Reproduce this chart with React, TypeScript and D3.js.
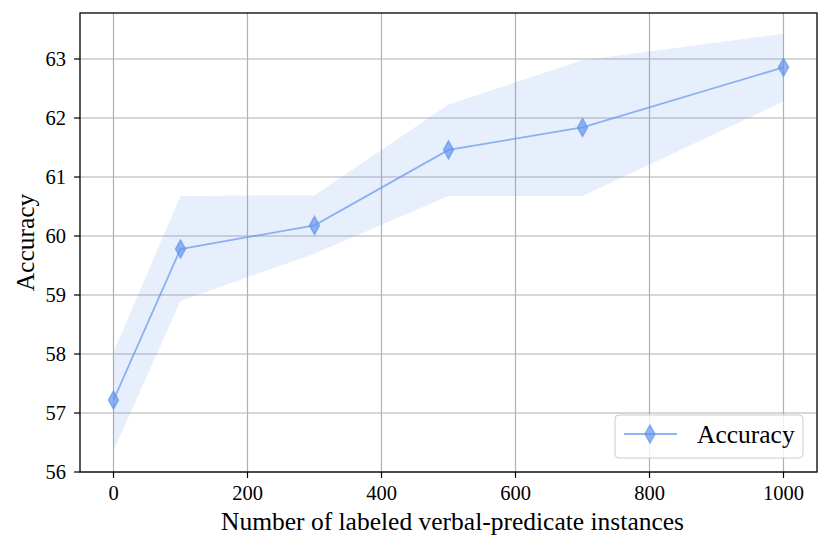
import * as d3 from 'd3'

const counts = [0, 100, 300, 500, 700, 1000]
const accuracy = [57.22, 59.78, 60.18, 61.46, 61.84, 62.86]
const upper = [58.03, 60.68, 60.69, 62.23, 62.98, 63.43]
const lower = [56.36, 58.9, 59.7, 60.68, 60.68, 62.28]
const xTicks = [0, 200, 400, 600, 800, 1000]
const yTicks = [56, 57, 58, 59, 60, 61, 62, 63]

const WIDTH = 831
const HEIGHT = 550
const LEFT = 80
const RIGHT = 817
const TOP = 13
const BOTTOM = 472
const FONT = '"Liberation Serif", "Times New Roman", serif'
const BLUE = 'rgb(100,149,237)'

export default function App() {
  const x = d3.scaleLinear([-50, 1050], [LEFT, RIGHT])
  const y = d3.scaleLinear([56, 63.78], [BOTTOM, TOP])

  const band = d3
    .area<number>()
    .x((_, i) => x(counts[i]))
    .y0((_, i) => y(lower[i]))
    .y1((_, i) => y(upper[i]))
  const line = d3
    .line<number>()
    .x((_, i) => x(counts[i]))
    .y((d) => y(d))

  const diamond = (cx: number, cy: number) =>
    `M${cx},${cy - 9}L${cx + 5},${cy}L${cx},${cy + 9}L${cx - 5},${cy}Z`

  return (
    <svg
      width={WIDTH}
      height={HEIGHT}
      viewBox={`0 0 ${WIDTH} ${HEIGHT}`}
      style={{ display: 'block', margin: '-8px', fontFamily: FONT }}
    >
      <rect width={WIDTH} height={HEIGHT} fill="white" />
      {/* grid */}
      <g stroke="#b0b0b0" strokeWidth={1.2}>
        {xTicks.map((t) => (
          <line key={`gx${t}`} x1={x(t)} x2={x(t)} y1={TOP} y2={BOTTOM} />
        ))}
        {yTicks.map((t) => (
          <line key={`gy${t}`} x1={LEFT} x2={RIGHT} y1={y(t)} y2={y(t)} />
        ))}
      </g>
      <path d={band(accuracy) ?? ''} fill={BLUE} fillOpacity={0.15} />
      <path d={line(accuracy) ?? ''} fill="none" stroke={BLUE} strokeOpacity={0.7} strokeWidth={1.8} />
      {accuracy.map((v, i) => (
        <path
          key={i}
          d={diamond(x(counts[i]), y(v))}
          fill={BLUE}
          fillOpacity={0.7}
          stroke={BLUE}
          strokeOpacity={0.7}
          strokeWidth={1.5}
        />
      ))}
      <rect
        x={LEFT}
        y={TOP}
        width={RIGHT - LEFT}
        height={BOTTOM - TOP}
        fill="none"
        stroke="black"
        strokeWidth={1.3}
      />
      {/* x axis */}
      {xTicks.map((t) => (
        <g key={`tx${t}`} transform={`translate(${x(t)},${BOTTOM})`}>
          <line y2={6} stroke="black" strokeWidth={1.2} />
          <text y={28} textAnchor="middle" fontSize={20.5} fill="black">
            {t}
          </text>
        </g>
      ))}
      {yTicks.map((t) => (
        <g key={`ty${t}`} transform={`translate(${LEFT},${y(t)})`}>
          <line x2={-6} stroke="black" strokeWidth={1.2} />
          <text x={-14} dy="0.34em" textAnchor="end" fontSize={20.5} fill="black">
            {t}
          </text>
        </g>
      ))}
      <text x={(LEFT + RIGHT) / 2 + 4} y={530} textAnchor="middle" fontSize={25.5} fill="black">
        Number of labeled verbal-predicate instances
      </text>
      <text
        transform={`translate(34,${(TOP + BOTTOM) / 2}) rotate(-90)`}
        textAnchor="middle"
        fontSize={25.5}
        fill="black"
      >
        Accuracy
      </text>
      {/* legend */}
      <g>
        <rect
          x={615}
          y={415}
          width={188}
          height={43}
          rx={4}
          fill="white"
          fillOpacity={0.8}
          stroke="#cccccc"
          strokeWidth={1}
        />
        <line x1={624} x2={677} y1={434} y2={434} stroke={BLUE} strokeOpacity={0.7} strokeWidth={1.8} />
        <path
          d={diamond(650, 434)}
          fill={BLUE}
          fillOpacity={0.7}
          stroke={BLUE}
          strokeOpacity={0.7}
          strokeWidth={1.5}
        />
        <text x={697} y={443} fontSize={25.5} fill="black">
          Accuracy
        </text>
      </g>
    </svg>
  )
}
